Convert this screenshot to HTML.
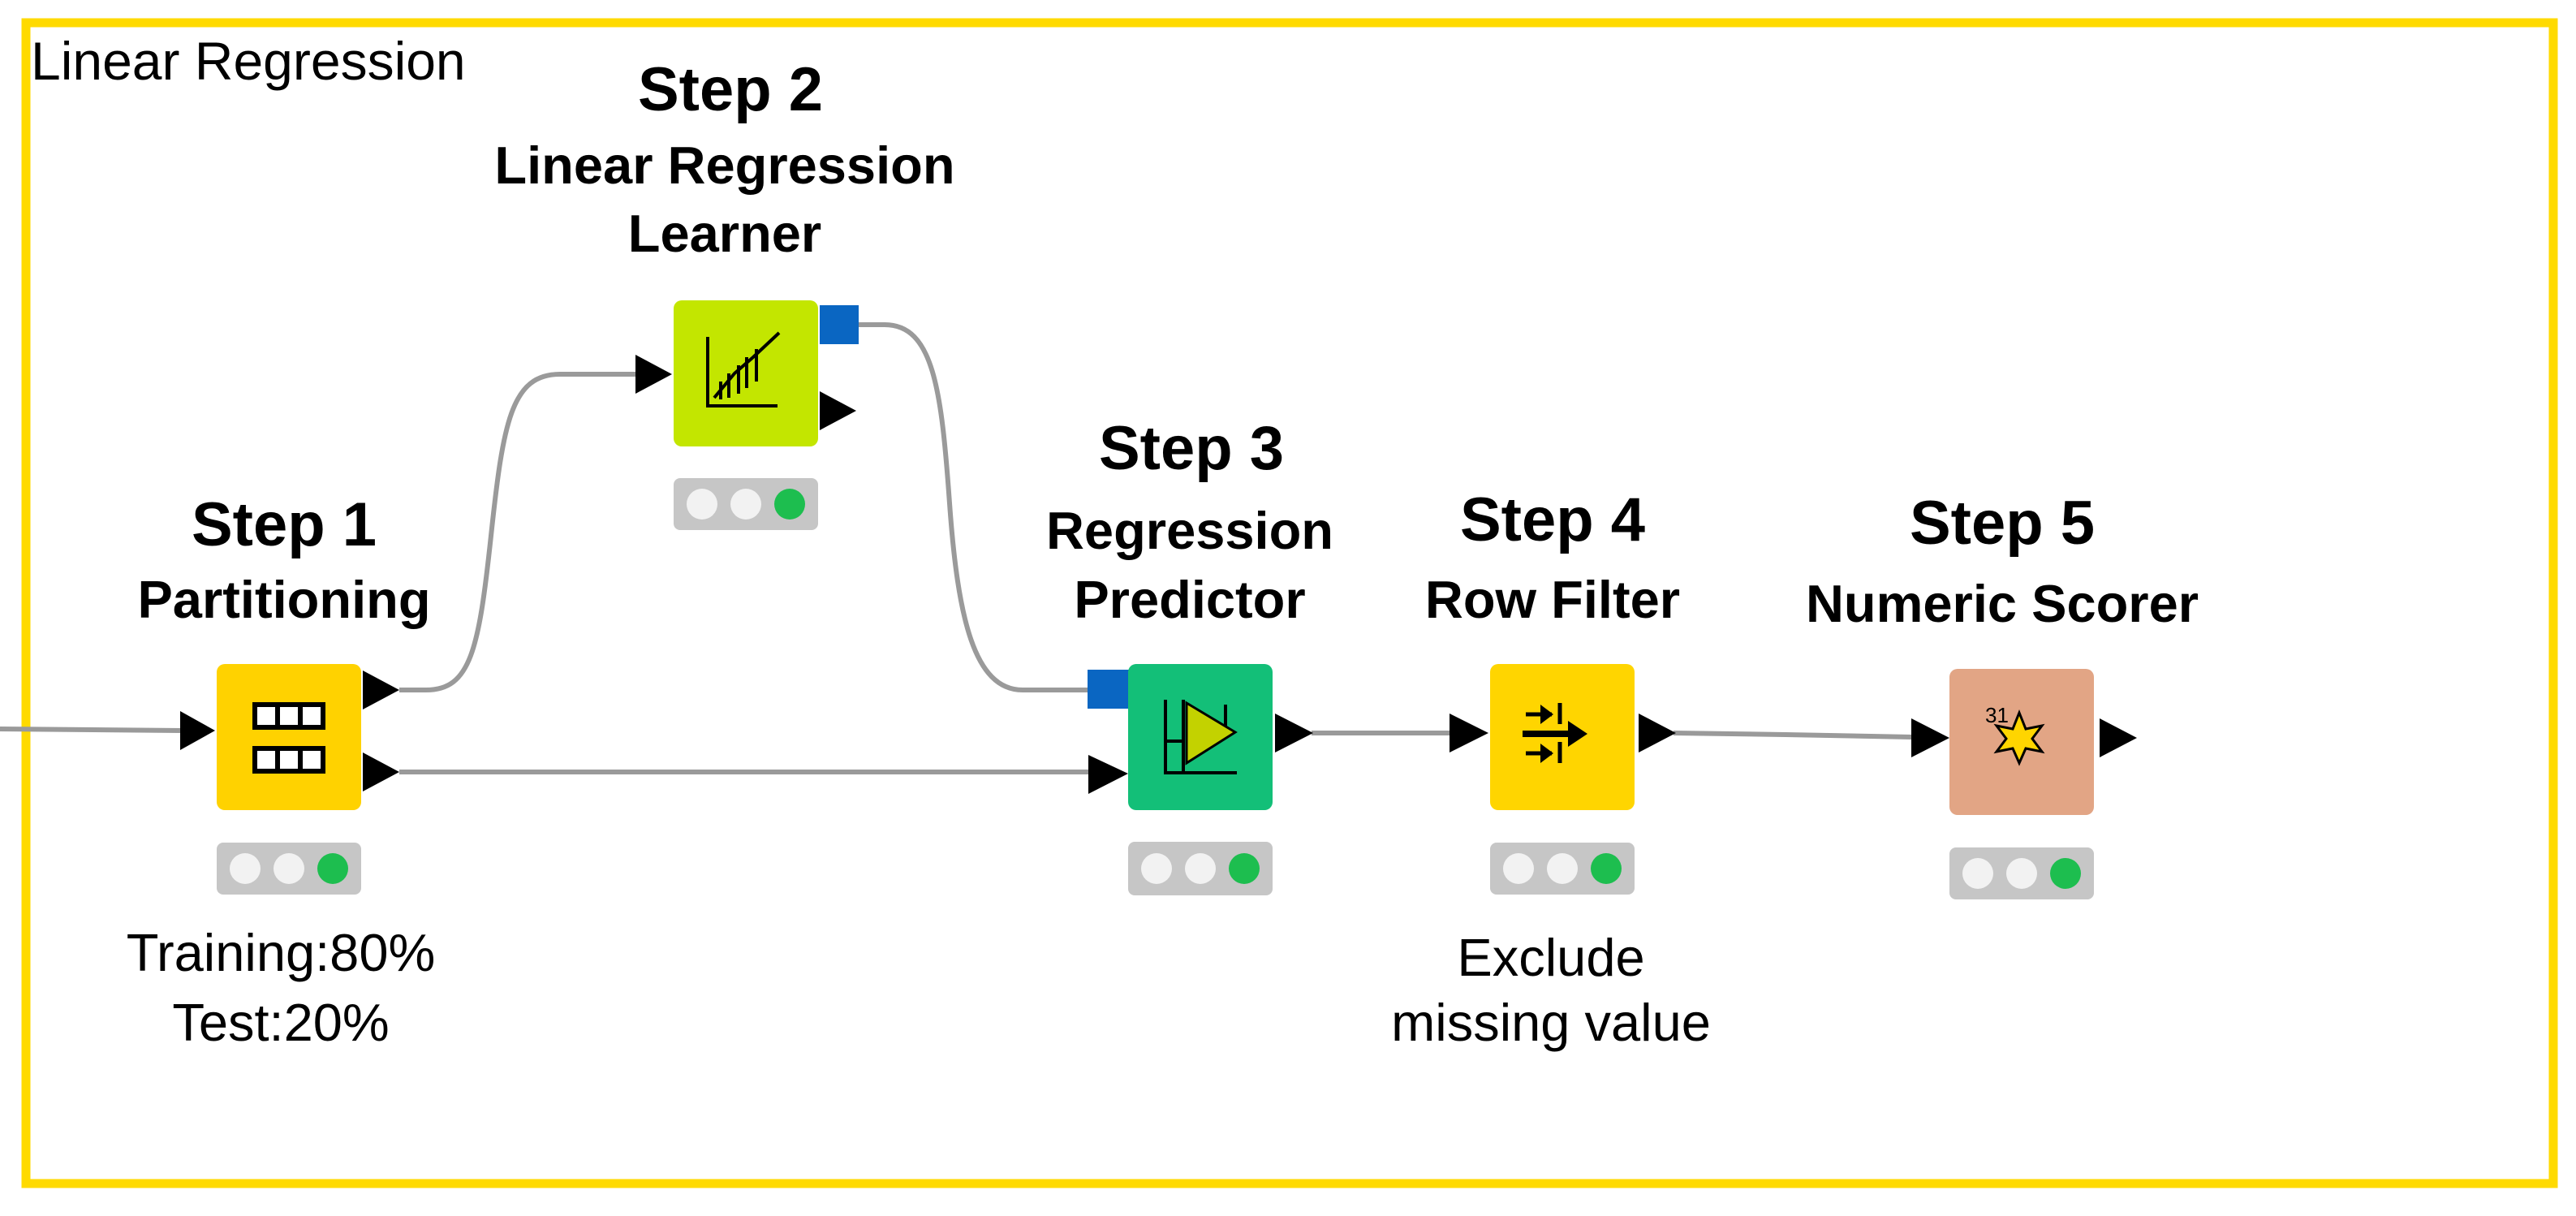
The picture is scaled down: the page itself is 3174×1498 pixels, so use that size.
<!DOCTYPE html>
<html><head><meta charset="utf-8"><style>
html,body{margin:0;padding:0;background:#fff;}
svg{display:block;}
text{font-family:"Liberation Sans",Arial,sans-serif;fill:#000;}
.b{font-weight:bold;}
</style></head><body>
<svg width="3174" height="1498" viewBox="0 0 3174 1498" xmlns="http://www.w3.org/2000/svg">
<rect x="0" y="0" width="3174" height="1498" fill="#fff"/>
<rect x="32" y="28" width="3114" height="1430" fill="none" stroke="#FFDA00" stroke-width="11"/>
<text x="38" y="98" font-size="66">Linear Regression</text>

<g fill="none" stroke="#9a9a9a" stroke-width="6">
<path d="M0 898 L225 900"/>
<path d="M492 850 L525 850 C580 850 590 800 605 660 C620 520 630 461 690 461 L785 461"/>
<path d="M492 951 L1342 951"/>
<path d="M1058 400 L1090 400 C1150 400 1160 480 1170 620 C1180 760 1200 850 1260 850 L1342 850"/>
<path d="M1616 903 L1788 903"/>
<path d="M2062 903 L2200 905 L2356 908"/>
</g>

<g fill="#000">
<polygon points="222,876 222,924 265,900"/>
<polygon points="447,826 447,874 492,850"/>
<polygon points="447,927 447,975 492,951"/>
<polygon points="783,437 783,485 828,461"/>
<polygon points="1010,482 1010,530 1055,506"/>
<polygon points="1341,930 1341,978 1390,953"/>
<polygon points="1571,879 1571,927 1618,903"/>
<polygon points="1786,879 1786,927 1834,903"/>
<polygon points="2019,879 2019,927 2065,903"/>
<polygon points="2355,885 2355,933 2402,909"/>
<polygon points="2587,885 2587,933 2633,909"/>
</g>

<rect x="1010" y="376" width="48" height="48" fill="#0A66C2"/>
<rect x="1340" y="825" width="52" height="48" fill="#0A66C2"/>

<rect x="267" y="818" width="178" height="180" rx="10" fill="#FFD200"/>
<g fill="#fff" stroke="#000" stroke-width="6">
<rect x="314" y="868" width="84" height="28"/>
<rect x="314" y="922" width="84" height="28"/>
</g>
<g stroke="#000" stroke-width="6">
<line x1="342" y1="868" x2="342" y2="896"/><line x1="370" y1="868" x2="370" y2="896"/>
<line x1="342" y1="922" x2="342" y2="950"/><line x1="370" y1="922" x2="370" y2="950"/>
</g>

<rect x="830" y="370" width="178" height="180" rx="10" fill="#C3E600"/>
<g stroke="#000" stroke-width="4" fill="none">
<path d="M872 415 L872 500 L958 500"/>
<path d="M880 490 L905 460 L928 440 L960 410"/>
<line x1="888" y1="470" x2="888" y2="492"/><line x1="898" y1="460" x2="898" y2="490"/>
<line x1="910" y1="450" x2="910" y2="485"/><line x1="920" y1="440" x2="920" y2="478"/>
<line x1="932" y1="430" x2="932" y2="470"/>
</g>

<rect x="1390" y="818" width="178" height="180" rx="10" fill="#13BF78"/>
<g stroke="#000" stroke-width="4" fill="none">
<path d="M1436 862 L1436 952 L1524 952"/>
<line x1="1436" y1="913" x2="1460" y2="913"/>
<line x1="1458" y1="862" x2="1458" y2="952"/>
<line x1="1510" y1="868" x2="1510" y2="905"/>
</g>
<polygon points="1462,866 1522,902 1462,940" fill="#C3D200" stroke="#000" stroke-width="3"/>

<rect x="1836" y="818" width="178" height="180" rx="10" fill="#FFD500"/>
<g stroke="#000" stroke-width="5" fill="none">
<line x1="1880" y1="880" x2="1912" y2="880"/><line x1="1922" y1="866" x2="1922" y2="892"/>
<line x1="1880" y1="928" x2="1912" y2="928"/><line x1="1922" y1="914" x2="1922" y2="940"/>
<line x1="1876" y1="904" x2="1940" y2="904" stroke-width="8"/>
</g>
<polygon points="1898,874 1898,868 1914,880 1898,892 1898,886" fill="#000"/>
<polygon points="1898,922 1898,916 1914,928 1898,940 1898,934" fill="#000"/>
<polygon points="1932,888 1956,904 1932,920" fill="#000"/>

<rect x="2402" y="824" width="178" height="180" rx="10" fill="#E2A585"/>
<text x="2446" y="890" font-size="26">31</text>
<polygon points="2488,878 2496,898 2516,894 2504,910 2516,926 2496,922 2488,940 2480,922 2460,926 2472,910 2460,894 2480,898" fill="#FFD500" stroke="#000" stroke-width="3"/>

<g>
<rect x="267" y="1038" width="178" height="64" rx="8" fill="#C6C6C6"/>
<circle cx="302" cy="1070" r="19" fill="#F2F2F2"/><circle cx="356" cy="1070" r="19" fill="#F2F2F2"/><circle cx="410" cy="1070" r="19" fill="#1DBE4F"/>
<rect x="830" y="589" width="178" height="64" rx="8" fill="#C6C6C6"/>
<circle cx="865" cy="621" r="19" fill="#F2F2F2"/><circle cx="919" cy="621" r="19" fill="#F2F2F2"/><circle cx="973" cy="621" r="19" fill="#1DBE4F"/>
<rect x="1390" y="1037" width="178" height="66" rx="8" fill="#C6C6C6"/>
<circle cx="1425" cy="1070" r="19" fill="#F2F2F2"/><circle cx="1479" cy="1070" r="19" fill="#F2F2F2"/><circle cx="1533" cy="1070" r="19" fill="#1DBE4F"/>
<rect x="1836" y="1038" width="178" height="64" rx="8" fill="#C6C6C6"/>
<circle cx="1871" cy="1070" r="19" fill="#F2F2F2"/><circle cx="1925" cy="1070" r="19" fill="#F2F2F2"/><circle cx="1979" cy="1070" r="19" fill="#1DBE4F"/>
<rect x="2402" y="1044" width="178" height="64" rx="8" fill="#C6C6C6"/>
<circle cx="2437" cy="1076" r="19" fill="#F2F2F2"/><circle cx="2491" cy="1076" r="19" fill="#F2F2F2"/><circle cx="2545" cy="1076" r="19" fill="#1DBE4F"/>
</g>

<g text-anchor="middle">
<text class="b" x="900" y="136" font-size="76">Step 2</text>
<text class="b" x="893" y="226" font-size="65">Linear Regression</text>
<text class="b" x="893" y="310" font-size="65">Learner</text>

<text class="b" x="350" y="672" font-size="76">Step 1</text>
<text class="b" x="350" y="761" font-size="65">Partitioning</text>
<text x="346" y="1196" font-size="65">Training:80%</text>
<text x="346" y="1282" font-size="65">Test:20%</text>

<text class="b" x="1468" y="578" font-size="76">Step 3</text>
<text class="b" x="1466" y="676" font-size="65">Regression</text>
<text class="b" x="1466" y="761" font-size="65">Predictor</text>

<text class="b" x="1913" y="666" font-size="76">Step 4</text>
<text class="b" x="1913" y="761" font-size="65">Row Filter</text>
<text x="1911" y="1202" font-size="65">Exclude</text>
<text x="1911" y="1282" font-size="65">missing value</text>

<text class="b" x="2467" y="670" font-size="76">Step 5</text>
<text class="b" x="2467" y="766" font-size="65">Numeric Scorer</text>
</g>
</svg>
</body></html>
